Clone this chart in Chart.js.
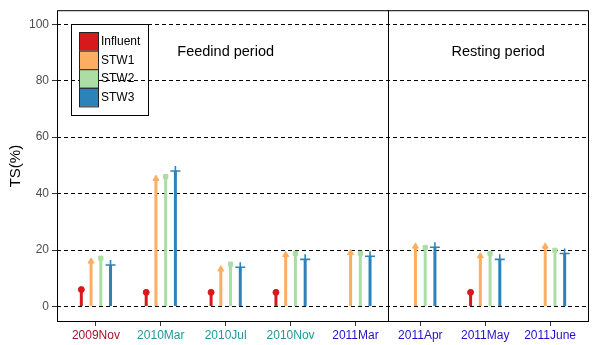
<!DOCTYPE html>
<html>
<head>
<meta charset="utf-8">
<script src="https://cdn.jsdelivr.net/npm/chart.js@4/dist/chart.umd.min.js"></script>
<style>
  html, body { margin: 0; padding: 0; background: #fff; }
  #wrap { width: 597px; height: 345px; position: relative; }
</style>
</head>
<body>
<div id="wrap"><canvas id="chart"></canvas></div>
<script>
// Sampling dates (x axis)
const categories = ['2009Nov', '2010Mar', '2010Jul', '2010Nov', '2011Mar', '2011Apr', '2011May', '2011June'];
const categoryColors = ['#A3142B', '#1F989B', '#1F989B', '#1F989B', '#2211CC', '#2211CC', '#2211CC', '#2211CC'];

// TS(%) per stage, null = not measured
const influent = [6, 5, 5, 5, null, null, 5, null];
const stw1 = [16, 45.3, 13.2, 18.3, 19, 21.3, 17.9, 21.3];
const stw2 = [17.1, 46, 15, 18.8, 18.8, 20.9, 18.8, 19.9];
const stw3 = [14.7, 48, 13.9, 16.7, 17.8, 21, 16.7, 18.8];

const seriesNames = ['Influent', 'STW1', 'STW2', 'STW3'];
const seriesColors = ['#D7191C', '#FDAE61', '#ABDDA4', '#2B83BA'];
const seriesMarkers = ['circle', 'triangle', 'rect', 'cross'];
const yTicks = [0, 20, 40, 60, 80, 100];
const periods = [
    { text: 'Feedind period', at: 2.0 },
    { text: 'Resting period', at: 6.2 }
];

const allSeries = [influent, stw1, stw2, stw3];
const offsets = [-0.225, -0.075, 0.075, 0.225];

function points(values, s) {
    const out = [];
    values.forEach((v, i) => {
        if (v !== null) out.push({ x: i + offsets[s], y: v });
    });
    return out;
}

const datasets = [];
allSeries.forEach((values, s) => {
    datasets.push({
        type: 'bar',
        label: seriesNames[s],
        data: points(values, s),
        backgroundColor: seriesColors[s],
        grouped: false,
        maxBarThickness: 3,
        order: 2
    });
});
allSeries.forEach((values, s) => {
    const style = seriesMarkers[s];
    datasets.push({
        type: 'scatter',
        label: seriesNames[s] + ' pt',
        data: points(values, s),
        pointStyle: style,
        pointRadius: style === 'cross' ? 5 : (style === 'triangle' ? 3.5 : 3),
        pointBackgroundColor: seriesColors[s],
        pointBorderColor: seriesColors[s],
        pointBorderWidth: style === 'cross' ? 1.6 : 1,
        order: 1
    });
});

// frame, divider, period labels, legend and y title
const decorations = {
    id: 'decorations',
    afterDatasetsDraw(chart) {
        const { ctx, chartArea: a, scales: { x, y } } = chart;
        ctx.save();
        ctx.strokeStyle = '#000';
        ctx.lineWidth = 1;
        ctx.strokeRect(a.left + 0.5, a.top + 0.5, a.right - a.left - 1, a.bottom - a.top - 1);
        const dx = Math.round(x.getPixelForValue(4.5)) + 0.5;
        ctx.beginPath();
        ctx.moveTo(dx, a.top);
        ctx.lineTo(dx, a.bottom);
        ctx.stroke();

        ctx.fillStyle = '#000';
        ctx.font = '14.5px "Liberation Sans", Arial, sans-serif';
        ctx.textAlign = 'center';
        ctx.textBaseline = 'middle';
        periods.forEach(p => {
            ctx.fillText(p.text, x.getPixelForValue(p.at), y.getPixelForValue(90.3));
        });

        // legend
        ctx.strokeRect(71.5, 24.5, 77, 91);
        ctx.font = '12px "Liberation Sans", Arial, sans-serif';
        ctx.textAlign = 'left';
        seriesNames.forEach((name, i) => {
            const top = 32 + i * 18.6;
            ctx.fillStyle = seriesColors[i];
            ctx.fillRect(79, top, 19, 18.6);
            ctx.strokeStyle = '#222';
            ctx.strokeRect(79.5, top + 0.5, 19, 18.6);
            ctx.fillStyle = '#000';
            ctx.fillText(name, 101, top + 9.8);
        });

        // y title
        ctx.translate(16, (a.top + a.bottom) / 2);
        ctx.rotate(-Math.PI / 2);
        ctx.textAlign = 'center';
        ctx.font = '15px "Liberation Sans", Arial, sans-serif';
        ctx.fillText('TS(%)', 0, 0);
        ctx.restore();
    }
};

new Chart(document.getElementById('chart'), {
    type: 'bar',
    data: { datasets: datasets },
    options: {
        responsive: true,
        maintainAspectRatio: false,
        animation: false,
        layout: { padding: { left: 0, right: 8, top: 7, bottom: 0 } },
        plugins: {
            legend: { display: false },
            tooltip: { enabled: false }
        },
        scales: {
            x: {
                type: 'linear',
                offset: false,
                min: -0.6,
                max: 7.6,
                afterBuildTicks: s => { s.ticks = categories.map((c, i) => ({ value: i })); },
                afterFit: s => { s.height = 23; },
                grid: { offset: false, drawOnChartArea: false, drawTicks: true, tickLength: 4, tickColor: '#333', tickWidth: 1 },
                border: { display: false },
                ticks: {
                    autoSkip: false,
                    maxRotation: 0,
                    padding: 2,
                    font: { family: '"Liberation Sans", Arial, sans-serif', size: 12 },
                    color: ctx => categoryColors[ctx.index],
                    callback: v => categories[v]
                }
            },
            y: {
                min: -5.5,
                max: 105,
                afterBuildTicks: s => { s.ticks = yTicks.map(v => ({ value: v })); },
                afterFit: s => { s.width = 57; },
                grid: { color: '#000', lineWidth: 1, drawTicks: true, tickLength: 5, tickColor: '#333', tickBorderDash: [] },
                border: { display: false, dash: [4, 3] },
                ticks: {
                    padding: 3,
                    font: { family: '"Liberation Sans", Arial, sans-serif', size: 12 },
                    color: '#4D4D4D'
                }
            }
        }
    },
    plugins: [decorations]
});
</script>
</body>
</html>
